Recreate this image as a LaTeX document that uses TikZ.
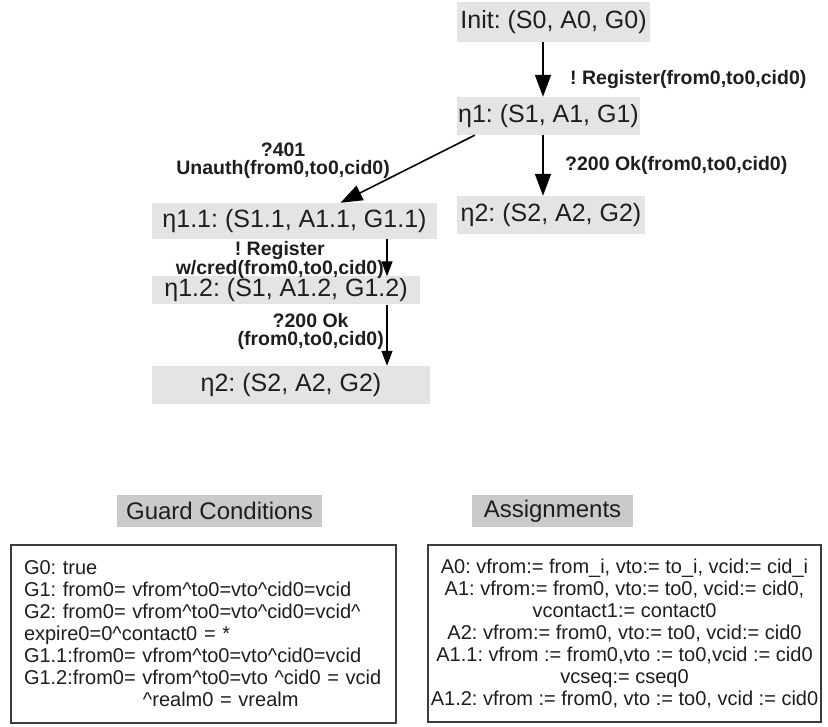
\documentclass[tikz,border=0pt]{standalone}
\usepackage{fontspec}
\setmainfont{Liberation Sans}
\usepackage{xcolor}
\usetikzlibrary{arrows.meta}
\frenchspacing

\newcommand{\andc}{\textasciicircum}

\tikzset{
  statebox/.style={fill=stateFill, text=textColor, inner sep=0pt,
    font=\fontsize{25}{28}\selectfont},
  headbox/.style={fill=headFill, text=textColor, inner sep=0pt,
    font=\fontsize{24}{28}\selectfont},
  infobox/.style={draw=boxColor, line width=1.6pt, text=textColor,
    inner xsep=13pt, inner ysep=0pt, font=\fontsize{20}{22}\selectfont},
  msg/.style={text=textColor, inner sep=0pt, align=center,
    font=\bfseries\fontsize{19.5}{18}\selectfont},
  bigarr/.style={draw=black, line width=1.6pt, -{Triangle[length=22pt,width=16pt]}},
  smallarr/.style={draw=black, line width=1.4pt, -{Triangle[length=15pt,width=11pt]}}
}

\begin{document}
\begin{tikzpicture}[x=1pt,y=1pt]
\definecolor{stateFill}{RGB}{228,228,228}
\definecolor{headFill}{RGB}{202,202,202}
\definecolor{boxColor}{RGB}{60,60,60}
\definecolor{textColor}{RGB}{30,30,30}
\path[use as bounding box,fill=white] (0,0) rectangle (828,727);

% states
\node[statebox,minimum width=193,minimum height=40] (init) at (553.5,705) {Init: (S0, A0, G0)};
\node[statebox,minimum width=183,minimum height=38] (eta1) at (548.5,611) {η1: (S1, A1, G1)};
\node[statebox,minimum width=188,minimum height=38] (eta2r) at (551.0,512) {η2: (S2, A2, G2)};
\node[statebox,minimum width=285,minimum height=36] (eta11) at (294.5,506) {η1.1: (S1.1, A1.1, G1.1)};
\node[statebox,minimum width=268,minimum height=28] (eta12) at (286.0,436.5) {η1.2: (S1, A1.2, G1.2)};
\node[statebox,minimum width=278,minimum height=38] (eta2l) at (291.0,342) {η2: (S2, A2, G2)};

\coordinate (colR) at (543,0);
\coordinate (colL) at (387,0);

% transitions
\draw[bigarr] (init.south -| colR) -- (eta1.north -| colR);
\draw[bigarr] (eta1.south -| colR) -- (eta2r.north -| colR);
\draw[bigarr] ([xshift=18pt]eta1.south west) -- ([xshift=46pt]eta11.north);
\draw[smallarr] (eta11.south -| colL) -- (eta12.north -| colL);
\draw[smallarr] (eta12.south -| colL) -- (eta2l.north -| colL);

\node[msg,anchor=west] (m1) at (570,647) {! Register(from0,to0,cid0)};
\node[msg,anchor=west] (m2) at (565,562) {?200 Ok(from0,to0,cid0)};
\node[msg,anchor=east] (m3) at (390,566) {?401\\Unauth(from0,to0,cid0)};
\node[msg,anchor=east] (m4) at (384,467) {! Register\\w/cred(from0,to0,cid0)};
\node[msg,anchor=east] (m5) at (384,396) {?200 Ok\\(from0,to0,cid0)};

% legend
\node[headbox,minimum width=205,minimum height=32] (guardHead) at (219.5,216) {Guard Conditions};
\node[headbox,minimum width=161,minimum height=32] (assignHead) at (552.5,216) {Assignments};

\node[infobox,text width=359pt,align=left,minimum height=178] (guards) at (203.5,93) {%
G0: true\\
G1: from0= vfrom\andc to0=vto\andc cid0=vcid\\
G2: from0= vfrom\andc to0=vto\andc cid0=vcid\andc\\
expire0=0\andc contact0 = *\\
G1.1:from0= vfrom\andc to0=vto\andc cid0=vcid\\
G1.2:from0= vfrom\andc to0=vto \andc cid0 = vcid\\
\hspace*{119pt}\andc realm0 = vrealm};

\node[infobox,inner xsep=0pt,align=center,minimum width=393,minimum height=177] (assigns) at (624.5,93.5) {%
A0: vfrom:= from\_i, vto:= to\_i, vcid:= cid\_i\\
A1: vfrom:= from0, vto:= to0, vcid:= cid0,\\
vcontact1:= contact0\\
A2: vfrom:= from0, vto:= to0, vcid:= cid0\\
A1.1: vfrom := from0,vto := to0,vcid := cid0\\
vcseq:= cseq0\\
A1.2: vfrom := from0, vto := to0, vcid := cid0};
\end{tikzpicture}
\end{document}
